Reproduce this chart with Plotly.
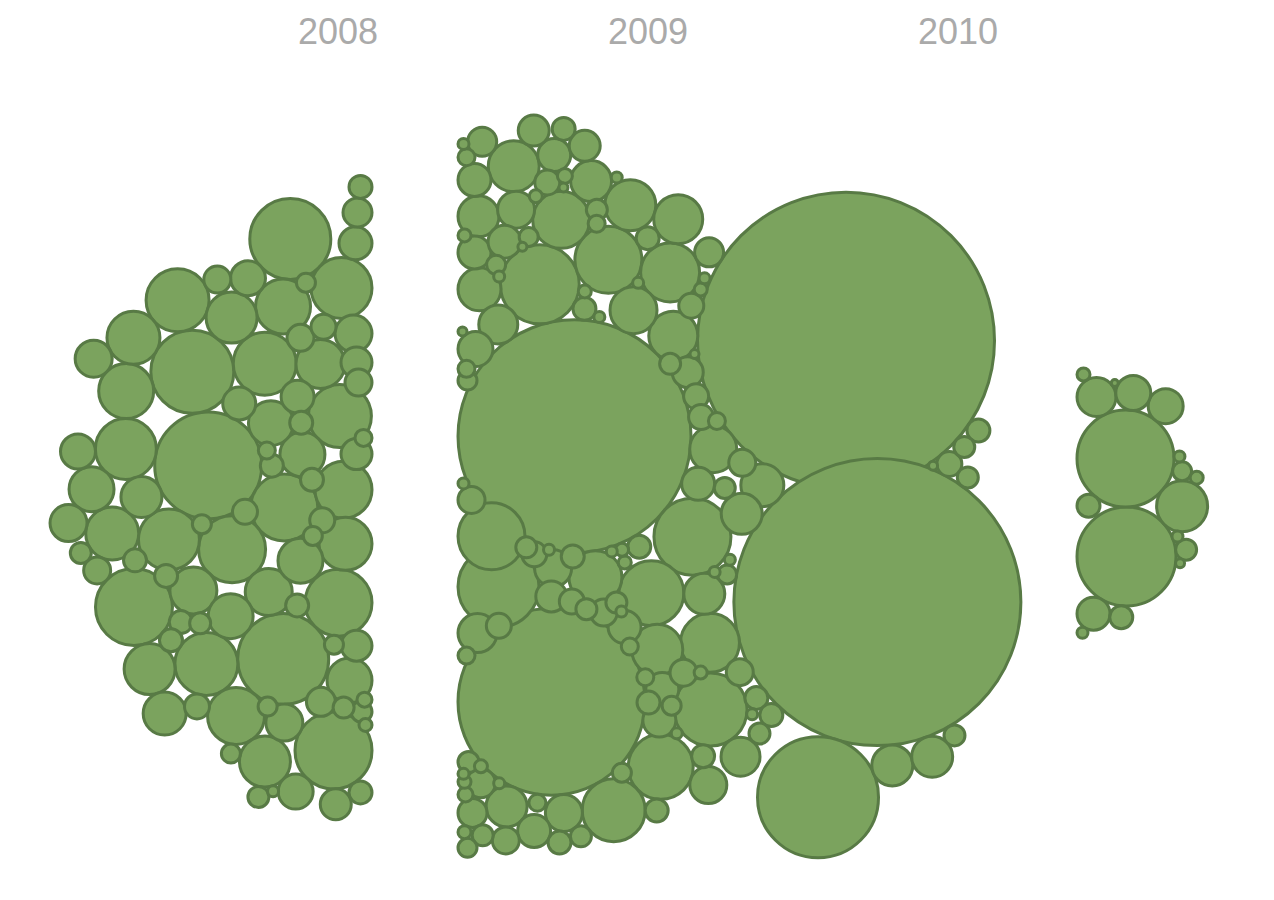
import numpy as np
import plotly.graph_objects as go

# ---------------- data (bubble value = area, radius = sqrt(value) px) ----------------
years = ["2008", "2009", "2010"]

values_2008 = [900, 196, 121, 289, 169, 784, 576, 576, 100, 196,
               1225, 1089, 1225, 289, 100, 121, 225, 121, 576, 169,
               169, 289, 169, 2209, 676, 625, 81, 576, 576, 196,
               1225, 256, 324, 625, 144, 3025, 1089, 121, 1024, 144,
               1089, 144, 400, 484, 121, 225, 169, 64, 1849, 196,
               1024, 784, 361, 324, 169, 324, 1024, 729, 841, 169,
               400, 784, 169, 256, 576, 49, 729, 1600, 1600, 841,
               900, 361, 144, 289, 1089, 729, 169, 361, 121, 225,
               225, 169, 400, 529, 1764, 400, 144]

values_2009 = [1225, 1764, 289, 49, 49, 441, 225, 144, 121, 169, 196, 100, 400, 100,
               13924,
               196, 361, 49, 196, 1681, 784, 36, 625, 144, 529, 64,
               9025,
               676, 49, 441, 1156, 225,
               169, 144, 144, 144, 100, 484, 225, 49, 900, 324,
               324, 196, 169, 121, 169, 64, 289, 100, 49,
               1600, 169, 64, 64, 64, 196,
               324, 400, 64, 49, 49, 729, 121, 100, 1156, 100,
               484, 64, 36, 49, 36, 484, 324, 625, 961, 324,
               324, 324, 196, 121, 256, 196, 121, 324, 225, 121,
               64, 49, 81,
               1225, 169, 289, 144, 256, 64, 169, 729, 49, 1089,
               49, 225, 64, 729, 49, 289, 529, 100, 484, 169, 100,
               22500,
               441, 144,
               21025,
               484, 961, 1444, 324, 36, 400, 49, 484, 121, 676, 400, 81,
               196, 225, 49, 144, 256, 144, 169, 36, 144, 144, 256,
               3844,
               169, 144, 144, 169, 484, 49, 169]

values_2010 = [169, 2500, 2601, 441, 729, 324, 361, 144, 64, 121,
               169, 361, 49, 49, 49, 36, 25, 64]

# ---------------- layout constants (pixels) ----------------
W, H = 1274, 900
OFF = 8  # default page margin of the html body
FILL = "#7ba35e"
EDGE = "#587a45"
STROKE = 3.0
label_pos = {"2008": 338, "2009": 648, "2010": 958}
# each year's bubbles gather against a vertical wall:
# (wall x, centre y, side of wall, vertical pull factor)
anchors = {"2008": (372, 502, -1, 1.05),
           "2009": (458, 505, 1, 1.15),
           "2010": (1077, 502, 1, 0.8)}
GOLD = np.pi * (3 - np.sqrt(5))


def pack(values, wall, cy, side, ky, n_iter=1200):
    r = np.sqrt(np.asarray(values, float))
    cr = r - STROKE / 2.0
    n = len(r)
    i = np.arange(n)
    frac = (i * GOLD / (2 * np.pi)) % 1.0
    phi = frac * np.pi - np.pi / 2
    R = np.sqrt(2 * (cr ** 2).sum() / 0.95)
    rho = R * np.sqrt((i + 0.5) / n)
    P = np.c_[wall + side * rho * np.cos(phi), cy + rho * np.sin(phi)]
    anchor = np.array([wall, cy], float)
    kvec = np.array([1.0, ky])
    eye = np.eye(n, dtype=bool)

    # very large bubbles stay where they start (only pushed by each other)
    pinned = cr > 55
    rw = cr ** 4
    share = rw[None, :] / (rw[:, None] + rw[None, :])
    share[pinned[:, None] & ~pinned[None, :]] = 0.0
    share[~pinned[:, None] & pinned[None, :]] = 1.0
    gw = np.minimum(1.0, (40.0 / r) ** 4)
    gw[pinned] = 0.0
    gw = gw[:, None]
    big = cr > 90
    soft = np.where(big[:, None] & big[None, :],
                    0.2 * np.minimum(cr[:, None], cr[None, :]), 0.0)
    target = cr[:, None] + cr[None, :] - soft

    def clamp(P):
        if side > 0:
            P[:, 0] = np.maximum(P[:, 0], wall + cr)
        else:
            P[:, 0] = np.minimum(P[:, 0], wall - cr)

    # pinned bubbles starting close to the wall are set against it
    gap = side * (P[:, 0] - wall) - cr
    snap = pinned & (gap < 30)
    P[snap, 0] = wall + side * cr[snap]
    clamp(P)
    for t in range(n_iter):
        alpha = max(0.0, 1 - t / (n_iter * 0.85))
        g = 0.01 * alpha + 0.001
        P += g * gw * kvec * (anchor - P)
        for _ in range(4):
            D = P[:, None, :] - P[None, :, :]
            dist = np.sqrt((D ** 2).sum(-1))
            dist[eye] = 1e9
            dist = np.maximum(dist, 1e-6)
            ov = target - dist
            ov[ov < 0] = 0
            mv = (ov * share / dist)[:, :, None] * D
            P += 0.7 * mv.sum(1)
            clamp(P)
    return P, r


fig = go.Figure()
for yr, vals in zip(years, [values_2008, values_2009, values_2010]):
    wall, cy, side, ky = anchors[yr]
    P, r = pack(vals, wall, cy, side, ky)
    order = np.argsort(-r, kind="stable")
    fig.add_trace(go.Scatter(
        x=P[order, 0], y=P[order, 1], mode="markers", cliponaxis=False,
        marker=dict(size=2 * r[order] - STROKE, color=FILL,
                    line=dict(color=EDGE, width=STROKE), opacity=1),
        hoverinfo="skip", showlegend=False, name=yr))
    fig.add_annotation(x=label_pos[yr], y=31, text=yr, showarrow=False,
                       xanchor="center", yanchor="middle",
                       font=dict(family="Liberation Sans, Arial, sans-serif",
                                 size=36, color="#aaaaaa"))

fig.update_layout(
    width=W - 2 * OFF, height=H - 2 * OFF, autosize=False,
    margin=dict(l=0, r=0, t=0, b=0),
    paper_bgcolor="white", plot_bgcolor="white",
    xaxis=dict(range=[OFF, W - OFF], visible=False, fixedrange=True),
    yaxis=dict(range=[H - OFF, OFF], visible=False, fixedrange=True),
)
fig.write_html("out.html")
